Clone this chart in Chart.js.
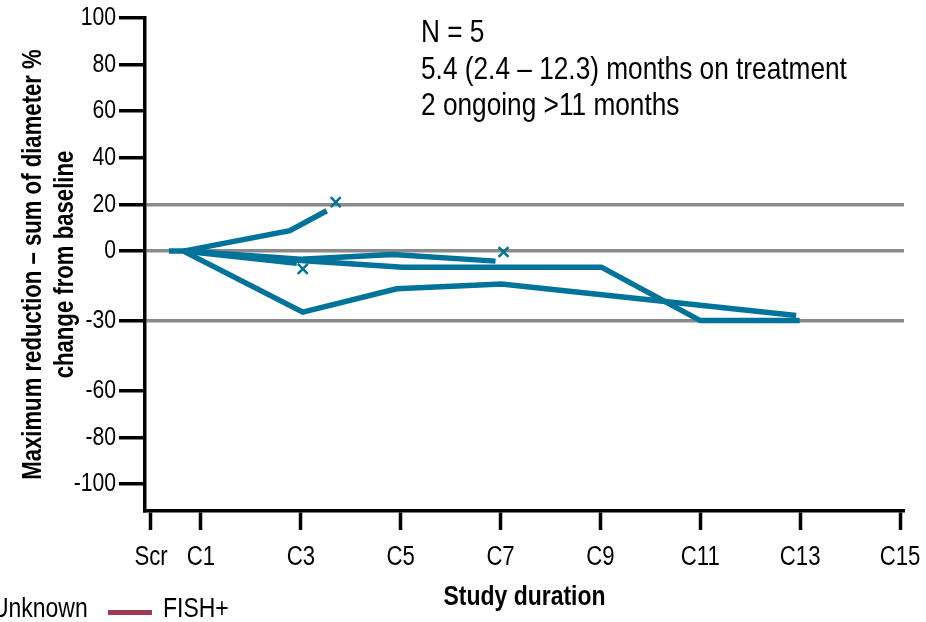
<!DOCTYPE html>
<html><head><meta charset="utf-8">
<script src="https://cdn.jsdelivr.net/npm/chart.js@4.4.1/dist/chart.umd.min.js"></script>
<style>
html,body{margin:0;padding:0;background:#fff;}
#wrap{position:relative;width:926px;height:622px;overflow:hidden;background:#fff;}
#c{position:absolute;left:0;top:0;}
.t{position:absolute;font-family:'Liberation Sans',Arial,sans-serif;color:#000;white-space:nowrap;transform:scaleX(0.82);transform-origin:0 0;}
</style></head><body>
<div id="wrap">
<canvas id="c" width="926" height="622"></canvas>
<div class="t" style="left:421px;top:13px;font-size:32px;line-height:36.5px;">N = 5<br>5.4 (2.4 – 12.3) months on treatment<br>2 ongoing &gt;11 months</div>
<div class="t" style="left:-8px;top:592px;font-size:28px;line-height:32px;">Unknown</div>
<div style="position:absolute;left:108px;top:610px;width:44px;height:5px;background:#9c3b56"></div>
<div class="t" style="left:163px;top:592px;font-size:28px;line-height:32px;">FISH+</div>
</div>
<script>
// Tick values and labels
const xTickValues = [0, 1, 3, 5, 7, 9, 11, 13, 15];
const xTickLabels = ['Scr', 'C1', 'C3', 'C5', 'C7', 'C9', 'C11', 'C13', 'C15'];
const yTickValues = [100, 80, 60, 40, 20, 0, -30, -60, -80, -100];
const yTickLabels = ['100', '80', '60', '40', '20', '0', '-30', '-60', '-80', '-100'];
const refLines = [20, 0, -30];

// Patient series (x = study cycle, y = % change from baseline)
const patientAX = [0.36, 0.65, 2.78, 3.52];
const patientAY = [0, 0, 8.8, 17.3];
const patientBX = [0.65, 3.0, 4.84, 6.9];
const patientBY = [0, -3.5, -1.5, -4.3];
const patientCX = [0.65, 3.04, 4.92, 7.02, 12.92];
const patientCY = [0, -26.2, -16.2, -14.1, -27.6];
const patientDX = [0.65, 2.92];
const patientDY = [0, -5.2];
const patientEX = [0.65, 3.0, 5.04, 9.02, 11.0, 12.99];
const patientEY = [0, -4.0, -6.9, -6.9, -29.8, -29.8];

// Discontinuation markers
const markerX = [3.7, 3.04, 7.06];
const markerY = [21, -7.6, -0.4];

const FONT = "'Liberation Sans', Arial, sans-serif";
const TEAL = '#00739a';
const NARROW = 0.82; // condensed (Arial Narrow-like) text width

const canvas = document.getElementById('c');
const ctx2d = canvas.getContext('2d');
const origFillText = ctx2d.fillText.bind(ctx2d);
ctx2d.fillText = function (text, x, y, maxWidth) {
  this.save();
  this.translate(x, y);
  this.scale(NARROW, 1);
  if (maxWidth !== undefined) origFillText(text, 0, 0, maxWidth / NARROW);
  else origFillText(text, 0, 0);
  this.restore();
};

function pts(xs, ys) { return xs.map((x, i) => ({ x: x, y: ys[i] })); }
function lineDs(xs, ys) {
  return { data: pts(xs, ys), showLine: true, borderColor: TEAL, backgroundColor: TEAL,
    borderWidth: 5.5, pointRadius: 0, tension: 0, borderCapStyle: 'butt', borderJoinStyle: 'miter', fill: false };
}

new Chart(canvas, {
  type: 'scatter',
  data: {
    datasets: [
      lineDs(patientAX, patientAY),
      lineDs(patientBX, patientBY),
      lineDs(patientCX, patientCY),
      lineDs(patientDX, patientDY),
      lineDs(patientEX, patientEY),
      { data: pts(markerX, markerY), showLine: false, pointStyle: 'crossRot', pointRadius: 7,
        borderColor: TEAL, backgroundColor: TEAL, pointBorderWidth: 2.5 }
    ]
  },
  options: {
    responsive: false,
    animation: false,
    layout: { padding: { left: 0, right: 22, top: 18, bottom: 0 } },
    plugins: { legend: { display: false }, tooltip: { enabled: false } },
    scales: {
      x: {
        type: 'linear', min: -0.12, max: 15.08,
        afterBuildTicks: s => { s.ticks = xTickValues.map(v => ({ value: v })); },
        afterFit: s => { s.height = 111; s.paddingLeft = 0; s.paddingRight = 0; },
        ticks: { autoSkip: false, maxRotation: 0, padding: 11, color: '#000',
          font: { family: FONT, size: 27 }, callback: (v, i) => xTickLabels[i] },
        grid: { drawOnChartArea: false, drawTicks: true, tickLength: 19, tickColor: '#000', tickWidth: 3.5 },
        border: { display: true, color: '#000', width: 3.5 },
        title: { display: true, text: 'Study duration', color: '#000',
          font: { family: FONT, size: 28, weight: 'bold' }, padding: { top: 0, bottom: 8 } }
      },
      y: {
        type: 'linear', min: -111.5, max: 100,
        afterBuildTicks: s => { s.ticks = yTickValues.map(v => ({ value: v })); },
        afterFit: s => { s.width = 145; s.paddingTop = 0; s.paddingBottom = 0; },
        ticks: { autoSkip: false, padding: 3, color: '#000',
          font: { family: FONT, size: 25.8 }, callback: (v, i) => yTickLabels[i] },
        grid: { drawOnChartArea: true,
          color: c => (c.tick && refLines.includes(c.tick.value)) ? '#8a8a8a' : 'rgba(0,0,0,0)',
          lineWidth: 3.5, tickLength: 26, tickColor: '#000', tickWidth: 3.5 },
        border: { display: true, color: '#000', width: 3.5 },
        title: { display: true, text: ['Maximum reduction – sum of diameter %', 'change from baseline'], color: '#000',
          font: { family: FONT, size: 27, weight: 'bold' }, padding: { top: 17, bottom: 0 } }
      }
    }
  }
});
</script>
</body></html>
